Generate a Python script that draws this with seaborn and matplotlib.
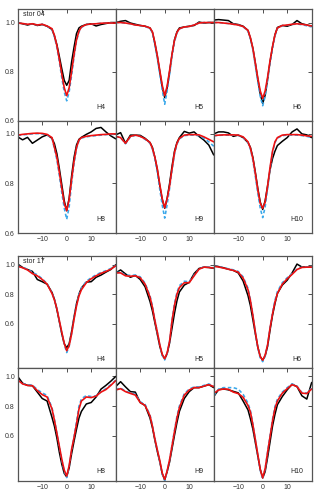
import numpy as np
import pandas as pd
import matplotlib
matplotlib.use("Agg")
import matplotlib.pyplot as plt
import seaborn as sns

# velocity grid (km/s)
velocity = [-20, -18, -16, -14, -12, -10, -8, -6, -5, -4, -3, -2, -1, 0,
            1, 2, 3, 4, 5, 6, 8, 10, 12, 14, 16, 18, 20]

lines = ["H4", "H5", "H6", "H8", "H9", "H10"]
stars = ["stor 04", "stor 17"]

# ---------------- stor 04 ----------------
s04_H4_obs = [1.000, 0.995, 0.990, 0.995, 0.988, 0.992, 0.985, 0.972, 0.945, 0.910, 0.862, 0.812, 0.765, 0.745,
              0.765, 0.840, 0.900, 0.955, 0.978, 0.985, 0.992, 0.995, 0.986, 0.992, 0.996, 1.000, 1.000]
s04_H4_red = [0.998, 0.996, 0.993, 0.995, 0.990, 0.993, 0.986, 0.975, 0.948, 0.905, 0.850, 0.790, 0.735, 0.703,
              0.735, 0.800, 0.870, 0.930, 0.965, 0.982, 0.992, 0.994, 0.995, 0.997, 0.998, 0.998, 0.998]
s04_H4_blue = [0.998, 0.996, 0.993, 0.995, 0.990, 0.993, 0.985, 0.972, 0.942, 0.898, 0.840, 0.775, 0.718, 0.682,
               0.718, 0.785, 0.860, 0.925, 0.962, 0.980, 0.992, 0.994, 0.995, 0.997, 0.998, 0.998, 0.998]

s04_H5_obs = [1.000, 1.005, 1.008, 0.998, 0.993, 0.988, 0.985, 0.978, 0.960, 0.915, 0.862, 0.800, 0.738, 0.695,
              0.735, 0.800, 0.870, 0.930, 0.962, 0.978, 0.982, 0.985, 0.988, 1.002, 0.998, 1.000, 1.000]
s04_H5_red = [1.000, 1.000, 0.998, 0.995, 0.990, 0.988, 0.985, 0.978, 0.962, 0.918, 0.865, 0.805, 0.745, 0.703,
              0.742, 0.805, 0.872, 0.928, 0.960, 0.975, 0.982, 0.984, 0.990, 0.998, 1.000, 1.000, 1.000]
s04_H5_blue = [1.000, 1.000, 0.998, 0.995, 0.990, 0.988, 0.984, 0.976, 0.958, 0.910, 0.855, 0.790, 0.725, 0.668,
               0.722, 0.790, 0.862, 0.922, 0.958, 0.974, 0.982, 0.984, 0.990, 0.998, 1.000, 1.000, 1.000]

s04_H6_obs = [1.010, 1.012, 1.010, 1.008, 0.995, 0.992, 0.985, 0.968, 0.935, 0.895, 0.835, 0.770, 0.710, 0.672,
              0.705, 0.770, 0.840, 0.900, 0.950, 0.980, 0.988, 0.985, 0.992, 1.008, 0.995, 0.990, 0.985]
s04_H6_red = [1.000, 1.000, 0.998, 0.996, 0.993, 0.990, 0.984, 0.968, 0.938, 0.895, 0.835, 0.775, 0.722, 0.692,
              0.722, 0.778, 0.845, 0.902, 0.950, 0.978, 0.988, 0.990, 0.993, 0.995, 0.993, 0.990, 0.986]
s04_H6_blue = [1.000, 1.000, 0.998, 0.996, 0.993, 0.990, 0.983, 0.965, 0.935, 0.888, 0.825, 0.760, 0.700, 0.662,
               0.700, 0.765, 0.835, 0.895, 0.945, 0.976, 0.987, 0.989, 0.992, 0.994, 0.991, 0.987, 0.982]

s04_H8_obs = [0.988, 0.976, 0.986, 0.962, 0.975, 0.988, 0.996, 0.982, 0.960, 0.920, 0.860, 0.795, 0.730, 0.690,
              0.740, 0.830, 0.905, 0.955, 0.978, 0.986, 0.998, 1.008, 1.022, 1.026, 1.008, 0.992, 0.980]
s04_H8_red = [0.995, 0.998, 1.000, 1.002, 1.003, 1.002, 0.998, 0.985, 0.945, 0.905, 0.845, 0.780, 0.720, 0.690,
              0.735, 0.815, 0.890, 0.945, 0.975, 0.985, 0.990, 0.993, 0.995, 0.997, 0.998, 1.000, 1.000]
s04_H8_blue = [0.993, 0.996, 0.998, 1.000, 1.001, 1.000, 0.996, 0.982, 0.940, 0.895, 0.832, 0.762, 0.700, 0.655,
               0.705, 0.800, 0.880, 0.940, 0.972, 0.983, 0.988, 0.991, 0.993, 0.995, 0.997, 0.998, 0.998]

s04_H9_obs = [0.996, 1.005, 0.962, 0.995, 0.995, 0.994, 0.982, 0.965, 0.945, 0.905, 0.855, 0.790, 0.735, 0.700,
              0.740, 0.800, 0.870, 0.930, 0.965, 0.985, 1.010, 1.003, 1.008, 0.990, 0.975, 0.955, 0.915]
s04_H9_red = [0.990, 0.985, 0.962, 0.990, 0.995, 0.990, 0.980, 0.965, 0.942, 0.905, 0.858, 0.795, 0.738, 0.702,
              0.738, 0.790, 0.860, 0.925, 0.962, 0.982, 0.995, 0.997, 0.997, 0.996, 0.988, 0.978, 0.968]
s04_H9_blue = [0.990, 0.985, 0.960, 0.988, 0.994, 0.990, 0.978, 0.962, 0.938, 0.898, 0.845, 0.775, 0.712, 0.660,
               0.715, 0.780, 0.852, 0.918, 0.958, 0.980, 0.993, 0.995, 0.995, 0.993, 0.982, 0.968, 0.950]

s04_H10_obs = [1.000, 1.008, 1.008, 1.004, 0.990, 0.995, 0.985, 0.965, 0.945, 0.905, 0.845, 0.780, 0.725, 0.695,
               0.730, 0.790, 0.855, 0.900, 0.930, 0.953, 0.970, 0.985, 1.008, 1.020, 1.000, 0.996, 0.985]
s04_H10_red = [0.993, 0.995, 0.996, 0.996, 0.996, 0.995, 0.988, 0.968, 0.942, 0.900, 0.840, 0.775, 0.720, 0.700,
               0.725, 0.790, 0.865, 0.930, 0.968, 0.985, 0.995, 0.997, 0.997, 0.997, 0.995, 0.992, 0.990]
s04_H10_blue = [0.992, 0.994, 0.995, 0.995, 0.995, 0.994, 0.986, 0.965, 0.938, 0.892, 0.828, 0.760, 0.700, 0.662,
                0.705, 0.778, 0.858, 0.925, 0.965, 0.983, 0.993, 0.995, 0.995, 0.995, 0.993, 0.990, 0.985]

# ---------------- stor 17 ----------------
s17_H4_obs = [1.005, 0.982, 0.968, 0.955, 0.900, 0.885, 0.868, 0.812, 0.765, 0.695, 0.612, 0.530, 0.462, 0.435,
              0.462, 0.545, 0.645, 0.735, 0.800, 0.842, 0.882, 0.885, 0.915, 0.930, 0.950, 0.968, 1.000]
s17_H4_red = [0.990, 0.980, 0.965, 0.940, 0.925, 0.900, 0.868, 0.805, 0.760, 0.700, 0.620, 0.540, 0.465, 0.415,
              0.450, 0.530, 0.630, 0.720, 0.788, 0.830, 0.878, 0.905, 0.925, 0.942, 0.955, 0.970, 0.993]
s17_H4_blue = [0.992, 0.983, 0.970, 0.948, 0.932, 0.905, 0.872, 0.808, 0.762, 0.700, 0.618, 0.535, 0.458, 0.402,
               0.445, 0.530, 0.635, 0.728, 0.798, 0.840, 0.888, 0.912, 0.932, 0.948, 0.960, 0.975, 0.995]

s17_H5_obs = [0.945, 0.965, 0.938, 0.915, 0.928, 0.900, 0.850, 0.750, 0.685, 0.605, 0.525, 0.445, 0.385, 0.360,
              0.395, 0.468, 0.570, 0.670, 0.755, 0.815, 0.862, 0.880, 0.940, 0.975, 0.984, 0.982, 0.976]
s17_H5_red = [0.945, 0.945, 0.925, 0.922, 0.925, 0.912, 0.868, 0.780, 0.710, 0.620, 0.540, 0.455, 0.390, 0.360,
              0.400, 0.480, 0.620, 0.725, 0.800, 0.845, 0.878, 0.878, 0.925, 0.970, 0.984, 0.982, 0.978]
s17_H5_blue = [0.948, 0.948, 0.930, 0.928, 0.930, 0.918, 0.875, 0.790, 0.718, 0.625, 0.540, 0.450, 0.382, 0.352,
               0.395, 0.478, 0.625, 0.735, 0.812, 0.858, 0.888, 0.885, 0.930, 0.972, 0.986, 0.984, 0.980]

s17_H6_obs = [0.995, 0.988, 0.980, 0.970, 0.962, 0.945, 0.890, 0.790, 0.720, 0.625, 0.530, 0.440, 0.375, 0.350,
              0.380, 0.445, 0.555, 0.655, 0.735, 0.805, 0.862, 0.895, 0.945, 1.005, 0.985, 0.984, 0.984]
s17_H6_red = [0.990, 0.985, 0.978, 0.970, 0.962, 0.950, 0.910, 0.830, 0.755, 0.655, 0.540, 0.440, 0.375, 0.350,
              0.385, 0.455, 0.570, 0.665, 0.745, 0.805, 0.868, 0.905, 0.935, 0.968, 0.982, 0.984, 0.984]
s17_H6_blue = [0.992, 0.987, 0.980, 0.973, 0.966, 0.955, 0.918, 0.840, 0.762, 0.660, 0.540, 0.435, 0.365, 0.340,
               0.378, 0.452, 0.575, 0.675, 0.758, 0.818, 0.878, 0.912, 0.940, 0.970, 0.984, 0.985, 0.985]

s17_H8_obs = [1.000, 0.955, 0.940, 0.938, 0.895, 0.852, 0.835, 0.725, 0.665, 0.585, 0.490, 0.410, 0.348, 0.325,
              0.385, 0.480, 0.565, 0.645, 0.720, 0.765, 0.815, 0.825, 0.862, 0.915, 0.940, 0.968, 1.000]
s17_H8_red = [0.977, 0.950, 0.940, 0.938, 0.905, 0.878, 0.862, 0.782, 0.705, 0.618, 0.530, 0.443, 0.370, 0.330,
              0.400, 0.510, 0.590, 0.680, 0.780, 0.835, 0.862, 0.858, 0.868, 0.895, 0.912, 0.940, 0.972]
s17_H8_blue = [0.977, 0.952, 0.944, 0.942, 0.912, 0.890, 0.872, 0.790, 0.710, 0.620, 0.528, 0.438, 0.362, 0.320,
               0.395, 0.505, 0.595, 0.695, 0.800, 0.850, 0.872, 0.865, 0.870, 0.898, 0.918, 0.945, 0.975]

s17_H9_obs = [0.932, 0.965, 0.930, 0.898, 0.895, 0.825, 0.805, 0.720, 0.655, 0.570, 0.495, 0.425, 0.345, 0.305,
              0.360, 0.425, 0.515, 0.605, 0.690, 0.765, 0.852, 0.898, 0.925, 0.925, 0.935, 0.945, 0.925]
s17_H9_red = [0.909, 0.918, 0.898, 0.886, 0.875, 0.825, 0.805, 0.735, 0.665, 0.580, 0.505, 0.435, 0.350, 0.307,
              0.365, 0.440, 0.535, 0.630, 0.720, 0.790, 0.875, 0.909, 0.925, 0.925, 0.935, 0.945, 0.932]
s17_H9_blue = [0.912, 0.922, 0.902, 0.890, 0.880, 0.830, 0.812, 0.742, 0.670, 0.582, 0.502, 0.428, 0.342, 0.298,
               0.360, 0.440, 0.540, 0.640, 0.732, 0.802, 0.885, 0.915, 0.930, 0.930, 0.940, 0.950, 0.935]

s17_H10_obs = [0.864, 0.912, 0.916, 0.910, 0.900, 0.890, 0.835, 0.775, 0.715, 0.645, 0.555, 0.465, 0.375, 0.318,
               0.360, 0.455, 0.560, 0.665, 0.745, 0.810, 0.865, 0.910, 0.948, 0.932, 0.870, 0.848, 0.960]
s17_H10_red = [0.886, 0.909, 0.916, 0.914, 0.895, 0.885, 0.860, 0.805, 0.760, 0.675, 0.575, 0.475, 0.375, 0.318,
               0.380, 0.490, 0.595, 0.700, 0.785, 0.835, 0.888, 0.918, 0.945, 0.932, 0.888, 0.885, 0.916]
s17_H10_blue = [0.870, 0.915, 0.925, 0.925, 0.925, 0.915, 0.880, 0.820, 0.770, 0.680, 0.575, 0.470, 0.368, 0.310,
                0.378, 0.492, 0.605, 0.712, 0.798, 0.848, 0.895, 0.925, 0.950, 0.935, 0.892, 0.888, 0.920]

obs = {("stor 04", "H4"): s04_H4_obs, ("stor 04", "H5"): s04_H5_obs, ("stor 04", "H6"): s04_H6_obs,
       ("stor 04", "H8"): s04_H8_obs, ("stor 04", "H9"): s04_H9_obs, ("stor 04", "H10"): s04_H10_obs,
       ("stor 17", "H4"): s17_H4_obs, ("stor 17", "H5"): s17_H5_obs, ("stor 17", "H6"): s17_H6_obs,
       ("stor 17", "H8"): s17_H8_obs, ("stor 17", "H9"): s17_H9_obs, ("stor 17", "H10"): s17_H10_obs}
red = {("stor 04", "H4"): s04_H4_red, ("stor 04", "H5"): s04_H5_red, ("stor 04", "H6"): s04_H6_red,
       ("stor 04", "H8"): s04_H8_red, ("stor 04", "H9"): s04_H9_red, ("stor 04", "H10"): s04_H10_red,
       ("stor 17", "H4"): s17_H4_red, ("stor 17", "H5"): s17_H5_red, ("stor 17", "H6"): s17_H6_red,
       ("stor 17", "H8"): s17_H8_red, ("stor 17", "H9"): s17_H9_red, ("stor 17", "H10"): s17_H10_red}
blue = {("stor 04", "H4"): s04_H4_blue, ("stor 04", "H5"): s04_H5_blue, ("stor 04", "H6"): s04_H6_blue,
        ("stor 04", "H8"): s04_H8_blue, ("stor 04", "H9"): s04_H9_blue, ("stor 04", "H10"): s04_H10_blue,
        ("stor 17", "H4"): s17_H4_blue, ("stor 17", "H5"): s17_H5_blue, ("stor 17", "H6"): s17_H6_blue,
        ("stor 17", "H8"): s17_H8_blue, ("stor 17", "H9"): s17_H9_blue, ("stor 17", "H10"): s17_H10_blue}

sns.set_style("white")
plt.rcParams["font.family"] = ["Liberation Sans", "DejaVu Sans"]

W, H = 321, 498
fig = plt.figure(figsize=(W / 100, H / 100), dpi=100)

col_left = [17.7, 115.7, 213.7]
col_w = 98.0
row_px = {"stor 04": [(9, 121), (121, 233)], "stor 17": [(256, 368), (368, 481)]}
ylims = {"stor 04": [(0.6, 1.055), (0.6, 1.052)], "stor 17": [(0.297, 1.06), (0.297, 1.057)]}
label_y = {"stor 04": 0.12, "stor 17": 0.08}

for star in stars:
    for r in range(2):
        top, bot = row_px[star][r]
        for c in range(3):
            line = lines[r * 3 + c]
            ax = fig.add_axes([col_left[c] / W, 1 - bot / H, col_w / W, (bot - top) / H])
            df = pd.DataFrame({"v": velocity,
                               "obs": obs[(star, line)],
                               "red": red[(star, line)],
                               "blue": blue[(star, line)]})
            sns.lineplot(data=df, x="v", y="obs", ax=ax, color="black", lw=1.1, sort=True)
            sns.lineplot(data=df, x="v", y="blue", ax=ax, color="#3aa8ea", lw=1.15,
                         linestyle=(0, (2.2, 1.5)), sort=True)
            sns.lineplot(data=df, x="v", y="red", ax=ax, color="#ee1111", lw=1.2, sort=True)
            ax.set_xlim(-20, 20)
            ax.set_ylim(*ylims[star][r])
            ax.set_xticks([-10, 0, 10])
            ax.set_yticks([0.6, 0.8, 1.0])
            ax.set_xlabel("")
            ax.set_ylabel("")
            ax.tick_params(direction="in", length=3, width=0.6, top=True, right=True,
                           labelsize=5, pad=2, colors="#333333")
            if c != 0:
                ax.set_yticklabels([])
            else:
                ax.set_yticklabels(["0.6", "0.8", "1.0"])
            if r != 1:
                ax.set_xticklabels([])
            for sp in ax.spines.values():
                sp.set_color("#555555")
                sp.set_linewidth(0.9)
            ax.text(0.85, label_y[star], line, transform=ax.transAxes, fontsize=5,
                    ha="center", va="center")
            if r == 0 and c == 0:
                ax.text(0.05, 0.95, star, transform=ax.transAxes, fontsize=5,
                        ha="left", va="center")

fig.savefig("out.png", dpi=100)
